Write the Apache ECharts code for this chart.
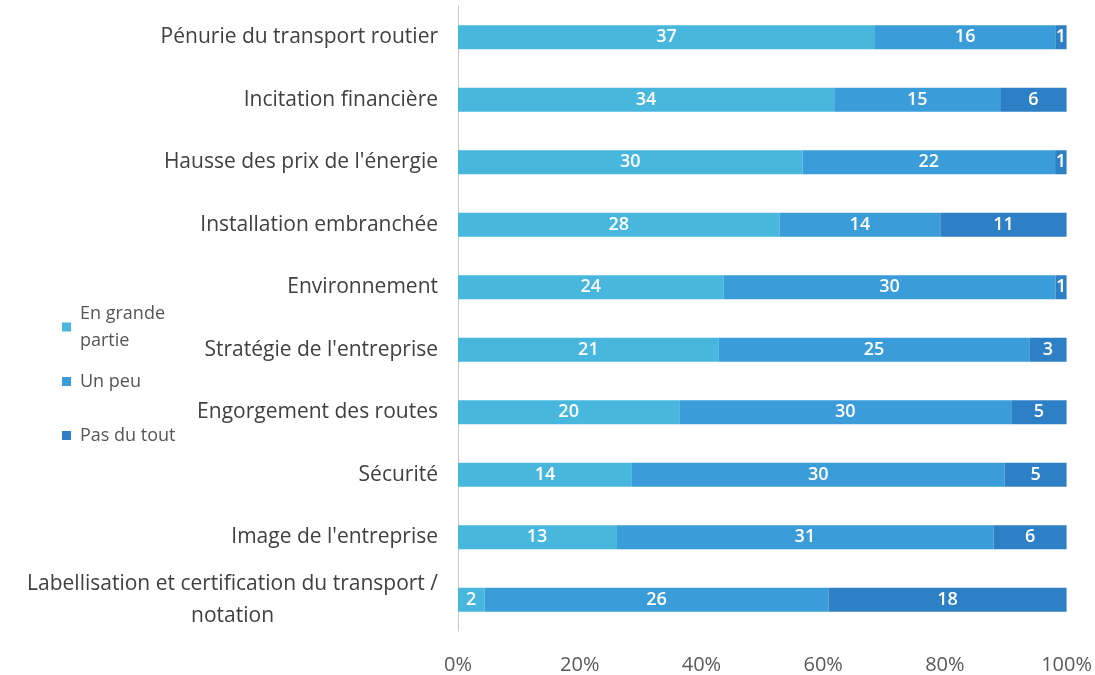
<!DOCTYPE html>
<html>
<head>
<meta charset="utf-8">
<script src="https://cdn.jsdelivr.net/npm/echarts@6/dist/echarts.min.js"></script>
<style>html,body{margin:0;padding:0;background:#fff;}#c{width:1095px;height:675px;}</style>
</head>
<body>
<div id="c"></div>
<script>
const categories = [
  "Pénurie du transport routier",
  "Incitation financière",
  "Hausse des prix de l'énergie",
  "Installation embranchée",
  "Environnement",
  "Stratégie de l'entreprise",
  "Engorgement des routes",
  "Sécurité",
  "Image de l'entreprise",
  "Labellisation et certification du transport /\nnotation"
];
const seriesNames = ["En grande partie", "Un peu", "Pas du tout"];
const enGrandePartie = [37, 34, 30, 28, 24, 21, 20, 14, 13, 2];
const unPeu = [16, 15, 22, 14, 30, 25, 30, 30, 31, 26];
const pasDuTout = [1, 6, 1, 11, 1, 3, 5, 5, 6, 18];
const xTicks = ["0%", "20%", "40%", "60%", "80%", "100%"];
const colors = ["#47b7de", "#3a9cd8", "#2d7fc6"];

const raw = [enGrandePartie, unPeu, pasDuTout];
const totals = categories.map((_, i) => raw.reduce((s, a) => s + a[i], 0));

const chart = echarts.init(document.getElementById('c'));
const FONT = "'Open Sans', sans-serif";

const series = raw.map((arr, k) => ({
  name: seriesNames[k],
  type: 'bar',
  stack: 'total',
  barWidth: 24,
  itemStyle: { color: colors[k] },
  label: {
    show: true,
    position: 'inside',
    color: '#fff',
    fontFamily: FONT,
    fontSize: 18,
    fontWeight: 600,
    formatter: p => String(arr[p.dataIndex])
  },
  data: arr.map((v, i) => v / totals[i] * 100)
}));

const legendTops = [300, 368, 422];
chart.setOption({
  animation: false,
  textStyle: { fontFamily: FONT },
  grid: { left: 458, right: 28, top: 6, bottom: 43, containLabel: false },
  legend: seriesNames.map((n, k) => ({
    data: [n],
    orient: 'vertical',
    left: 62,
    top: legendTops[k],
    icon: 'rect',
    itemWidth: 9,
    itemHeight: 9,
    itemGap: 4,
    padding: 0,
    textStyle: { fontFamily: FONT, fontSize: 18, color: '#555', lineHeight: 27, padding: [0, 0, 0, 4] },
    formatter: name => name === "En grande partie" ? "En grande\npartie" : name
  })),
  xAxis: {
    type: 'value',
    min: 0,
    max: 100,
    interval: 20,
    axisLine: { show: false },
    axisTick: { show: false },
    splitLine: { show: false },
    axisLabel: {
      margin: 24,
      color: '#595959',
      fontFamily: FONT,
      fontSize: 20,
      formatter: v => xTicks[Math.round(v / 20)]
    }
  },
  yAxis: {
    type: 'category',
    inverse: true,
    data: categories,
    axisLine: { show: true, lineStyle: { color: '#c8c8c8', width: 1 } },
    axisTick: { show: false },
    axisLabel: {
      margin: 20,
      color: '#404040',
      fontFamily: FONT,
      fontSize: 21,
      lineHeight: 32,
      formatter: v => v.indexOf('\n') >= 0 ? '{c|' + v.split('\n').join('}\n{c|') + '}' : v,
      rich: { c: { align: 'center', fontFamily: FONT, fontSize: 21, color: '#404040', lineHeight: 32 } }
    }
  },
  series: series
});
</script>
</body>
</html>
